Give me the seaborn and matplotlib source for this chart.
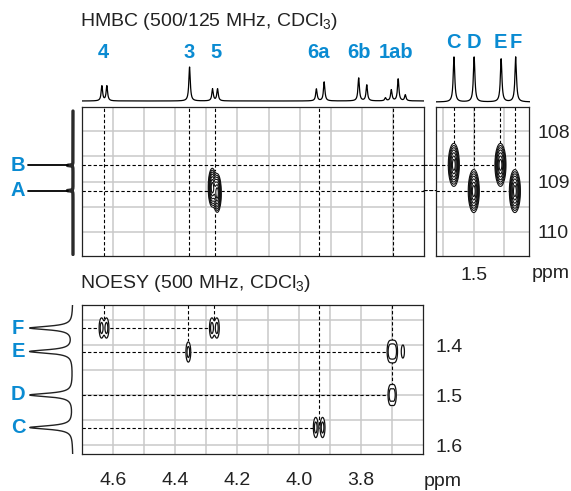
import numpy as np
import pandas as pd
import matplotlib
matplotlib.use("Agg")
import matplotlib.pyplot as plt
import seaborn as sns
from matplotlib.patches import ConnectionPatch

# ----------------------------- data -----------------------------
# 1H assignments (top labels) and guide-line positions (ppm)
h_labels = ["4", "3", "5", "6a", "6b", "1ab"]
h_label_ppm = [4.630, 4.357, 4.270, 3.940, 3.808, 3.690]
h_guide_ppm = [4.630, 4.357, 4.273, 3.937, 3.700]

# 1H spectrum lines of the sugar region (ppm, relative height)
h1_line_ppm = [4.636, 4.620, 4.354, 4.280, 4.264, 3.946, 3.921,
               3.810, 3.784, 3.724, 3.705, 3.683, 3.660]
h1_line_int = [15, 15, 34, 12, 12, 12, 19, 23, 16, 3, 11, 22, 6]

# methyl singlets C-F (1H ppm, height) and label positions
me_labels = ["C", "D", "E", "F"]
me_ppm = [1.565, 1.500, 1.413, 1.366]
me_int = [45, 45, 43, 45]
me_label_ppm = [1.568, 1.502, 1.414, 1.365]

# acetal carbons (13C ppm)
c_labels = ["B", "A"]
c_ppm = [108.68, 109.18]
c_int = [0.13, 0.13]
c_end_methyl = ["E", "F"]          # dashed guide ends at this methyl

# HMBC cross peaks
hmbc_main_h = [4.281, 4.265]
hmbc_main_c = [109.12, 109.23]
hmbc_me_h = [1.565, 1.500, 1.413, 1.366]
hmbc_me_c = [108.67, 109.19, 108.67, 109.19]

# NOESY cross peaks (F2 ppm, F1 ppm, relative height)
noesy_x = [4.637, 4.621, 4.281, 4.265, 4.357, 3.708, 3.699, 3.690,
           3.665, 3.705, 3.694, 3.946, 3.924]
noesy_y = [1.366, 1.366, 1.366, 1.366, 1.414, 1.413, 1.413, 1.413,
           1.413, 1.500, 1.500, 1.565, 1.565]
noesy_h = [1.0, 1.0, 1.0, 1.0, 1.0, 1.0, 1.0, 1.0, 0.5, 1.0, 1.0, 1.0, 1.0]

# NOESY guide lines
noesy_vguide_x = [4.630, 4.357, 4.273, 3.937, 3.700]
noesy_vguide_end = [1.366, 1.414, 1.366, 1.565, 1.500]
noesy_hguide_end = [3.937, 3.700, 3.700, 4.273]    # for C, D, E, F

# axis ticks
x_major = [4.6, 4.4, 4.2, 4.0, 3.8]
x_grid = [4.6, 4.5, 4.4, 4.3, 4.2, 4.1, 4.0, 3.9, 3.8, 3.7]
c_ticks = [108, 109, 110]
c_grid = [108, 108.5, 109, 109.5, 110]
me_ticks = [1.5]
me_grid = [1.6, 1.5, 1.4]
noesy_y_ticks = [1.4, 1.5, 1.6]
noesy_y_grid = [1.35, 1.4, 1.45, 1.5, 1.55, 1.6]

# ----------------------------- style -----------------------------
sns.set_theme(style="white")
plt.rcParams["font.family"] = ["Liberation Sans", "DejaVu Sans"]
plt.rcParams["mathtext.fontset"] = "custom"
plt.rcParams["mathtext.rm"] = "Liberation Sans"
plt.rcParams["mathtext.default"] = "regular"

BLUE = "#0a8bd2"
GRID = "#c9c9c9"
TXT = "#222222"
FS = 14
LFS = 14.5
W, H = 571, 491

fig = plt.figure(figsize=(W / 100, H / 100), dpi=100)


def add_ax(x0, y0, x1, y1):
    return fig.add_axes([x0 / W, 1 - y1 / H, (x1 - x0) / W, (y1 - y0) / H])


def lorentz(x, centers, heights, gamma):
    x = np.asarray(x)[:, None]
    c = np.asarray(centers)[None, :]
    h = np.asarray(heights)[None, :]
    return (h * gamma ** 2 / ((x - c) ** 2 + gamma ** 2)).sum(axis=1)


def gauss2d(X, Y, xs, ys, hs, sx, sy):
    Z = np.zeros_like(X)
    for x0, y0, h in zip(xs, ys, hs):
        Z += h * np.exp(-((X - x0) ** 2) / (2 * sx ** 2) - ((Y - y0) ** 2) / (2 * sy ** 2))
    return Z


def frame(ax):
    for s in ax.spines.values():
        s.set_visible(True)
        s.set_color(TXT)
        s.set_linewidth(0.9)
    ax.tick_params(which="both", length=0, labelsize=FS, colors=TXT)


def clean(ax):
    ax.set_axis_off()


DASH = dict(color="black", lw=0.8, ls=(0, (3, 2)))

XL = (4.70, 3.60)
CL = (110.48, 107.52)
ML = (1.623, 1.320)
NL = (1.618, 1.320)

# ----------------------------- HMBC main -----------------------------
ax_h = add_ax(82, 107, 424, 256)
ax_h.set_xlim(*XL)
ax_h.set_ylim(*CL)
frame(ax_h)
ax_h.set_xticks(x_grid)
ax_h.set_yticks(c_grid)
ax_h.set_xticklabels([])
ax_h.set_yticklabels([])
ax_h.grid(True, color=GRID, lw=1.1, zorder=0)
ax_h.set_axisbelow(True)
for xg in h_guide_ppm:
    ax_h.axvline(xg, zorder=1, **DASH)
for cy in c_ppm:
    ax_h.axhline(cy, zorder=1, **DASH)
Xh, Yh = np.meshgrid(np.linspace(4.35, 4.2, 400), np.linspace(107.6, 110.4, 400))
Zh = gauss2d(Xh, Yh, hmbc_main_h, hmbc_main_c, [1, 1], 0.0058, 0.17)
lv = [0.08, 0.13, 0.2, 0.3, 0.45, 0.65, 0.85]
ax_h.contourf(Xh, Yh, Zh, levels=[lv[0], Zh.max() + 1], colors="white", zorder=2)
ax_h.contour(Xh, Yh, Zh, levels=lv, colors="#111111", linewidths=0.8, zorder=3)

# ----------------------------- HMBC methyl panel -----------------------------
ax_r = add_ax(436, 107, 529, 256)
ax_r.set_xlim(*ML)
ax_r.set_ylim(*CL)
frame(ax_r)
ax_r.set_xticks(me_grid)
ax_r.set_xticklabels(["" if v not in me_ticks else f"{v:.1f}" for v in me_grid])
ax_r.set_yticks(c_grid)
ax_r.set_yticklabels([f"{v:.0f}" if v in c_ticks else "" for v in c_grid])
ax_r.yaxis.tick_right()
ax_r.tick_params(axis="y", pad=6)
ax_r.tick_params(axis="x", pad=8)
ax_r.grid(True, color=GRID, lw=1.1, zorder=0)
ax_r.set_axisbelow(True)
Xr, Yr = np.meshgrid(np.linspace(ML[1], ML[0], 500), np.linspace(107.6, 110.4, 500))
Zr = gauss2d(Xr, Yr, hmbc_me_h, hmbc_me_c, [1, 1, 1, 1], 0.0080, 0.19)
for hx, cy in zip(hmbc_me_h, hmbc_me_c):
    ax_r.plot([hx, hx], [CL[1], cy], zorder=1, **DASH)
ax_r.contourf(Xr, Yr, Zr, levels=[lv[0], Zr.max() + 1], colors="white", zorder=2)
ax_r.contour(Xr, Yr, Zr, levels=lv, colors="#111111", linewidths=0.8, zorder=3)

# dashed guides from A/B across to the methyl panel
for cy, lab in zip(c_ppm, c_end_methyl):
    xe = me_ppm[me_labels.index(lab)]
    ax_r.plot([ML[0], xe], [cy, cy], zorder=1, **DASH)
    con = ConnectionPatch(xyA=(XL[1], cy), coordsA=ax_h.transData,
                          xyB=(ML[0], cy), coordsB=ax_r.transData,
                          color="black", lw=0.8, ls=(0, (3, 2)))
    fig.add_artist(con)

# ----------------------------- 1H projection (top) -----------------------------
ax_t = add_ax(82, 30, 424, 106)
x_t = np.linspace(XL[1], XL[0], 3000)
df_t = pd.DataFrame({"ppm": x_t, "I": lorentz(x_t, h1_line_ppm, h1_line_int, 0.0028)})
sns.lineplot(data=df_t, x="ppm", y="I", ax=ax_t, color="black", lw=0.9,
             estimator=None, sort=False)
ax_t.set_xlim(*XL)
ax_t.set_ylim(-5, 71)
clean(ax_t)
for lab, xp in zip(h_labels, h_label_ppm):
    ax_t.text(xp, 48, lab, color=BLUE, fontsize=LFS, fontweight="bold",
              ha="center", va="center")

ax_tr = add_ax(436, 30, 530, 106)
x_tr = np.linspace(ML[1], ML[0], 1500)
df_tr = pd.DataFrame({"ppm": x_tr, "I": lorentz(x_tr, me_ppm, me_int, 0.0030)})
sns.lineplot(data=df_tr, x="ppm", y="I", ax=ax_tr, color="black", lw=0.9,
             estimator=None, sort=False)
ax_tr.set_xlim(*ML)
ax_tr.set_ylim(-4, 72)
clean(ax_tr)
for lab, xp in zip(me_labels, me_label_ppm):
    ax_tr.text(xp, 60, lab, color=BLUE, fontsize=LFS, fontweight="bold",
               ha="center", va="center")

# ----------------------------- 13C projection (left) -----------------------------
IL = (1.698, -0.163)
ax_l = add_ax(0, 107, 80, 256)
y_l = np.linspace(107.6, 110.45, 2000)
df_l = pd.DataFrame({"ppm": y_l, "I": lorentz(y_l, c_ppm, c_int, 0.008)})
sns.lineplot(data=df_l, x="I", y="ppm", ax=ax_l, color="#2a2a2a", lw=2.4,
             estimator=None, sort=False)
ax_l.set_xlim(*IL)
ax_l.set_ylim(*CL)
clean(ax_l)
for lab, cy in zip(c_labels, c_ppm):
    ax_l.plot([1.047, 0.12], [cy, cy], color="black", lw=1.3)
    ax_l.text(1.279, cy, lab, color=BLUE, fontsize=LFS, fontweight="bold",
              ha="center", va="center")

# ----------------------------- NOESY -----------------------------
ax_n = add_ax(82, 305, 423, 454)
ax_n.set_xlim(*XL)
ax_n.set_ylim(*NL)
frame(ax_n)
ax_n.set_xticks(x_grid)
ax_n.set_xticklabels([f"{v:.1f}" if round(v, 1) in x_major else "" for v in x_grid])
ax_n.set_yticks(noesy_y_grid)
ax_n.set_yticklabels([f"{v:.1f}" if round(v, 2) in noesy_y_ticks else "" for v in noesy_y_grid])
ax_n.yaxis.tick_right()
ax_n.tick_params(axis="y", pad=9)
ax_n.tick_params(axis="x", pad=13)
ax_n.grid(True, color=GRID, lw=1.1, zorder=0)
ax_n.set_axisbelow(True)
for xg, ye in zip(noesy_vguide_x, noesy_vguide_end):
    ax_n.plot([xg, xg], [NL[1], ye], zorder=1, **DASH)
for yp, xe in zip(me_ppm, noesy_hguide_end):
    ax_n.plot([XL[0], xe], [yp, yp], zorder=1, **DASH)
Xn, Yn = np.meshgrid(np.linspace(XL[1], XL[0], 1600), np.linspace(NL[1], NL[0], 500))
Zn = gauss2d(Xn, Yn, noesy_x, noesy_y, noesy_h, 0.0050, 0.0130)
nlv = [0.3, 0.7]
ax_n.contourf(Xn, Yn, Zn, levels=[nlv[0], Zn.max() + 1], colors="white", zorder=2)
ax_n.contour(Xn, Yn, Zn, levels=nlv, colors="#111111", linewidths=0.9, zorder=3)

# NOESY 1H projection (left)
ax_nl = add_ax(0, 305, 80, 454)
y_nl = np.linspace(NL[1], NL[0], 2000)
df_nl = pd.DataFrame({"ppm": y_nl, "I": lorentz(y_nl, me_ppm, [1, 1, 1, 1], 0.0042)})
sns.lineplot(data=df_nl, x="I", y="ppm", ax=ax_nl, color="#222222", lw=1.0,
             estimator=None, sort=False)
ax_nl.set_xlim(*IL)
ax_nl.set_ylim(*NL)
clean(ax_nl)
for lab, yp in zip(me_labels, me_ppm):
    ax_nl.text(1.279, yp, lab, color=BLUE, fontsize=LFS, fontweight="bold",
               ha="center", va="center")

# ----------------------------- titles & units -----------------------------
fig.text(80 / W, 1 - 22 / H, "HMBC (500/125 MHz, CDCl$_3$)", fontsize=FS,
         ha="left", va="center", color=TXT)
fig.text(80 / W, 1 - 283 / H, "NOESY (500 MHz, CDCl$_3$)", fontsize=FS,
         ha="left", va="center", color=TXT)
fig.text(443 / W, 1 - 481 / H, "ppm", fontsize=FS, ha="center", va="center", color=TXT)
fig.text(551 / W, 1 - 274 / H, "ppm", fontsize=FS, ha="center", va="center", color=TXT)

fig.savefig("out.png", dpi=100)
